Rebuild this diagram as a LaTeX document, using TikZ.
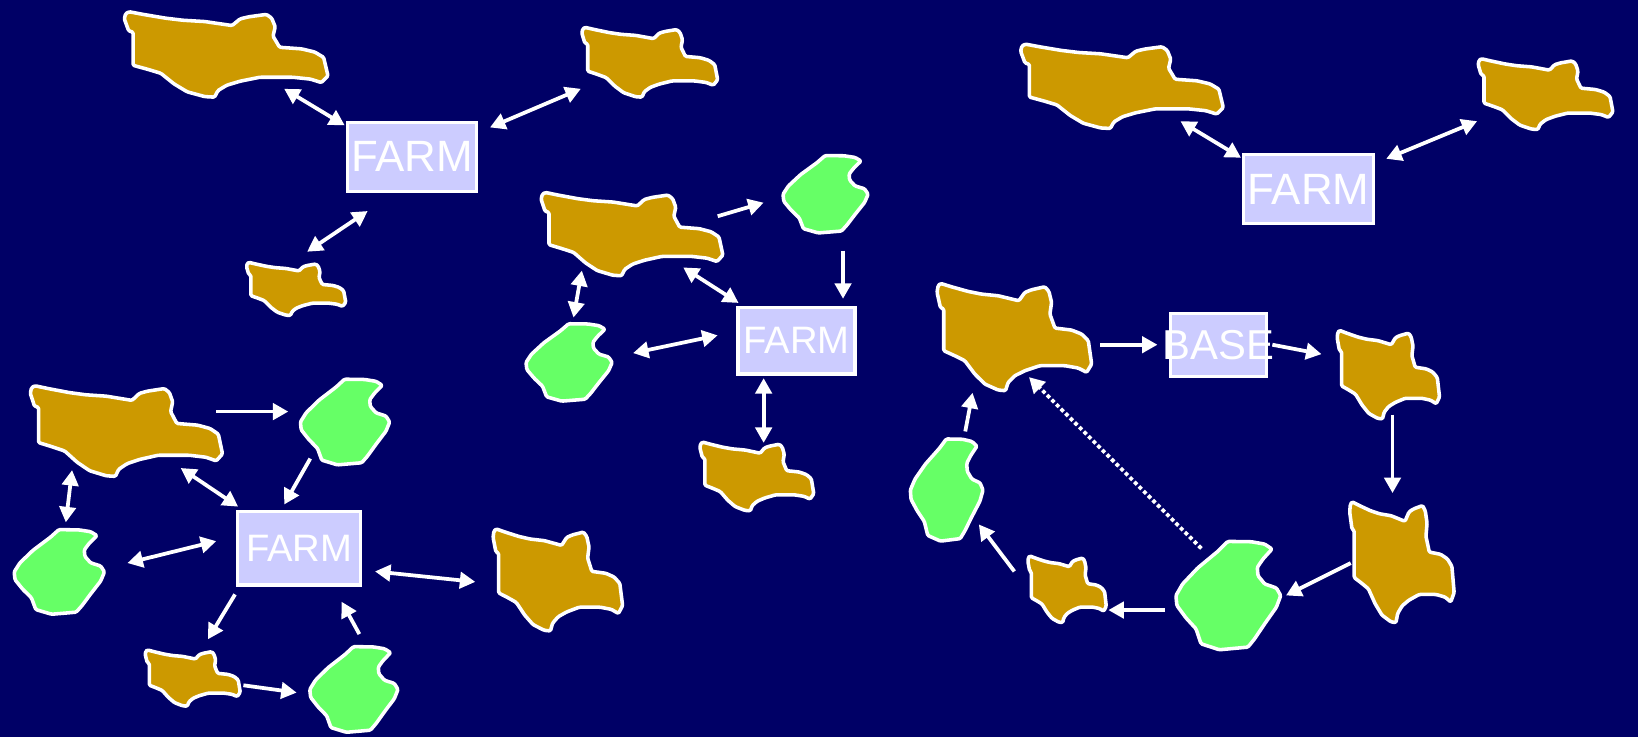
\documentclass[tikz,border=0pt]{standalone}
\usepackage{fontspec}
\setmainfont{Liberation Sans}
\usetikzlibrary{arrows.meta}
\definecolor{navy}{HTML}{000066}
\definecolor{landbrown}{HTML}{CC9900}
\definecolor{landgreen}{HTML}{66FF66}
\definecolor{boxblue}{HTML}{CCCCFF}
\tikzset{
	land/.style={draw=white, line width=1.7pt, line join=round, rounded corners=0.6pt},
	brownland/.pic={
		\draw[land, fill=landbrown] (11,1) -- (43,11) -- (93,25) -- (133,33) -- (183,38) -- (245,53)
			-- (263,28) -- (283,20) -- (323,11) -- (335,25) -- (343,58) -- (338,93) -- (353,135)
			-- (403,141) -- (433,153) -- (453,173) -- (463,243) -- (448,268) -- (423,255) -- (383,248)
			-- (308,248) -- (263,263) -- (233,278) -- (213,298) -- (205,323) -- (183,321) -- (143,303)
			-- (113,273) -- (83,233) -- (53,218) -- (20,203) -- (20,78) -- (10,73) -- (0,28) -- (3,8) -- cycle;
	},
	greenland/.pic={
		\draw[land, fill=landgreen] (157,4) -- (227,5) -- (267,12) -- (289,27) -- (262,57) -- (245,82)
			-- (247,107) -- (267,132) -- (302,144) -- (315,167) -- (302,202) -- (267,252) -- (237,297)
			-- (217,322) -- (132,330) -- (77,312) -- (62,267) -- (32,234) -- (5,197) -- (2,167)
			-- (22,132) -- (67,84) -- (127,34) -- cycle;
	},
	farmbox/.style={draw=white, line width=1.5pt, fill=boxblue, inner sep=0pt},
	boxtext/.style={text=white, inner sep=0pt},
	link/.style={draw=white, line width=1.8pt, -{Triangle[length=7.4pt,width=7.8pt]}},
	twoway/.style={draw=white, line width=1.8pt, {Triangle[length=7.4pt,width=7.8pt]}-{Triangle[length=7.4pt,width=7.8pt]}},
	dotlink/.style={link, dash pattern=on 1.8pt off 1.3pt},
}
\begin{document}
\begin{tikzpicture}[x=0.5pt, y=-0.5pt]
	\useasboundingbox (0,0) rectangle (1568,705.5);
	\fill[navy] (0,0) rectangle (1568,705.5);

	% brown patches: name / left / top / width / height
	\foreach \nm/\px/\py/\w/\h in {b1/119/11/195/82, b2/557/26/130/67, b3/236/251/95/51,
		b4/518/184/174/80, b5/670/423/109/66, b6/977/42/194/81, b7/1415/56/129/68,
		b8/29/369/184/87, b9/139/622/91/54, b10/472/506/124/98, b11/897/271/148/103,
		b12/1280/316/98/85, b13/1292/480/100/116, b14/984/532/75/64}
		\pic[xscale=\w/463, yscale=\h/323] (\nm) at (\px,\py) {brownland};

	% green patches
	\foreach \nm/\px/\py/\w/\h in {g1/749/148/82/75, g2/503/309/83/75, g3/287/362/86/83,
		g4/13/506/87/82, g5/296/618/85/83, g6/871/419/70/99, g7/1125/517/101/105}
		\pic[xscale=\w/315, yscale=\h/330] (\nm) at (\px,\py) {greenland};

	% boxes
	\foreach \nm/\px/\py/\w/\h/\fs/\txt in {f1/394.5/150/62/33/21/FARM, f2/1252.5/181/62/33/21/FARM,
		f3/762.5/326/56/32/18.3/FARM, f4/286.5/525/59/35/18.3/FARM, base/1166.5/330.5/46/30/20/BASE} {
		\node[farmbox, minimum width=\w pt, minimum height=\h pt] (\nm) at (\px,\py) {};
		\node[boxtext, font=\fontsize{\fs}{\fs}\selectfont] (\nm txt) at (\nm) {\txt};
	}

	% one way
	\foreach \nm/\ax/\ay/\bx/\by in {a1/687/207/731/194, a2/807/240/807/286, a3/207/394/276/394,
		a4/297/439/272/483, a5/225/569/199/612, a6/344/607/327/576, a7/233/656/284/663,
		a8/1053/330/1108/330, a9/1218/330/1265/339, a10/1333/397/1333/472, a11/1293/539/1231/570,
		a12/1115/584/1061/584, a13/971/547/937/502, a14/924/413/931/376} {
		\coordinate (\nm s) at (\ax,\ay);
		\coordinate (\nm e) at (\bx,\by);
		\draw[link] (\nm s) -- (\nm e);
	}

	% both ways
	\foreach \nm/\ax/\ay/\bx/\by in {t1/272/85/330/120, t2/469/122/556/85, t3/294/241/352/202,
		t4/654/256/707/290, t5/557/259/549/304, t6/606/338/687/321, t7/731/362/731/424,
		t8/173/448/228/485, t9/69/450/63/500, t10/122/539/207/518, t11/359/547/455/557,
		t12/1130/116/1188/151, t13/1327/152/1414/116} {
		\coordinate (\nm s) at (\ax,\ay);
		\coordinate (\nm e) at (\bx,\by);
		\draw[twoway] (\nm s) -- (\nm e);
	}

	\coordinate (ds) at (1150,525);
	\coordinate (de) at (985,361);
	\draw[dotlink] (ds) -- (de);
\end{tikzpicture}
\end{document}
